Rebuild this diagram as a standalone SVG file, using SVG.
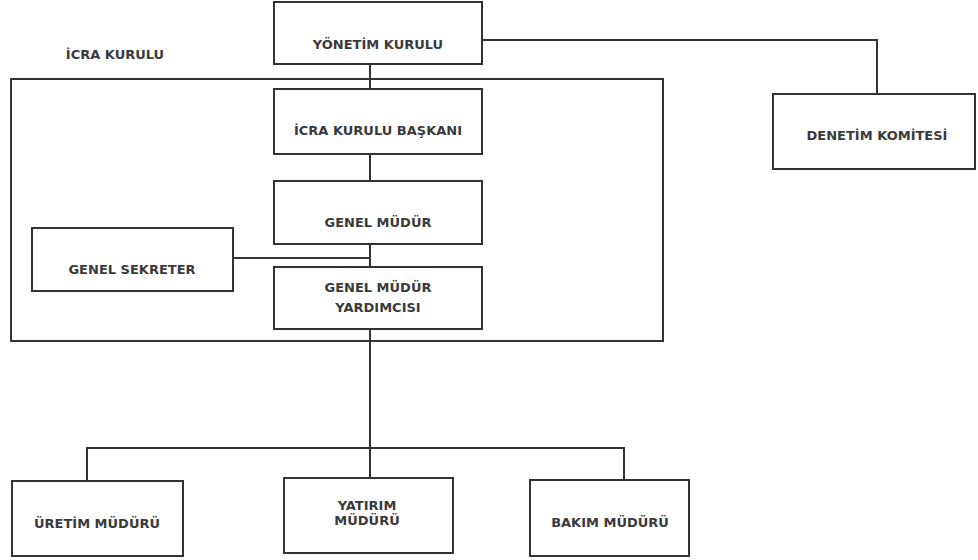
<svg xmlns="http://www.w3.org/2000/svg" width="978" height="560" viewBox="0 0 978 560">
<style>
.box{fill:#fff;stroke:#333;stroke-width:2}
.con{fill:none;stroke:#333;stroke-width:2}
text{font-family:"DejaVu Sans",Verdana,sans-serif;font-size:13px;font-weight:bold;fill:#3a3a3a;text-anchor:middle}
</style>
<rect width="978" height="560" fill="#fff"/>
<g id="icra-kurulu">
<rect x="11" y="79" width="652" height="262" fill="none" stroke="#333" stroke-width="2"/>
<text x="115" y="59">İCRA KURULU</text>
</g>
<g id="connectors">
<path class="con" d="M370 64V89M370 154V181M370 244V267M233 258H370M482 40H877V94M370 329V478M87 481V448H624V480"/>
</g>
<g id="yonetim"><rect class="box" x="274" y="2" width="208" height="62"/><text x="378" y="49">YÖNETİM KURULU</text></g>
<g id="denetim"><rect class="box" x="773" y="94" width="202" height="75"/><text x="877" y="140">DENETİM KOMİTESİ</text></g>
<g id="baskan"><rect class="box" x="274" y="89" width="208" height="65"/><text x="378" y="135">İCRA KURULU BAŞKANI</text></g>
<g id="genel-mudur"><rect class="box" x="274" y="181" width="208" height="63"/><text x="378" y="227">GENEL MÜDÜR</text></g>
<g id="genel-sekreter"><rect class="box" x="32" y="228" width="201" height="63"/><text x="132" y="274">GENEL SEKRETER</text></g>
<g id="gmy"><rect class="box" x="274" y="267" width="208" height="62"/><text x="378" y="292">GENEL MÜDÜR</text><text x="378" y="312">YARDIMCISI</text></g>
<g id="uretim"><rect class="box" x="12" y="481" width="171" height="75"/><text x="97" y="528">ÜRETİM MÜDÜRÜ</text></g>
<g id="yatirim"><rect class="box" x="284" y="478" width="169" height="75"/><text x="367" y="510">YATIRIM</text><text x="367" y="525">MÜDÜRÜ</text></g>
<g id="bakim"><rect class="box" x="530" y="480" width="159" height="76"/><text x="610" y="527">BAKIM MÜDÜRÜ</text></g>
</svg>
